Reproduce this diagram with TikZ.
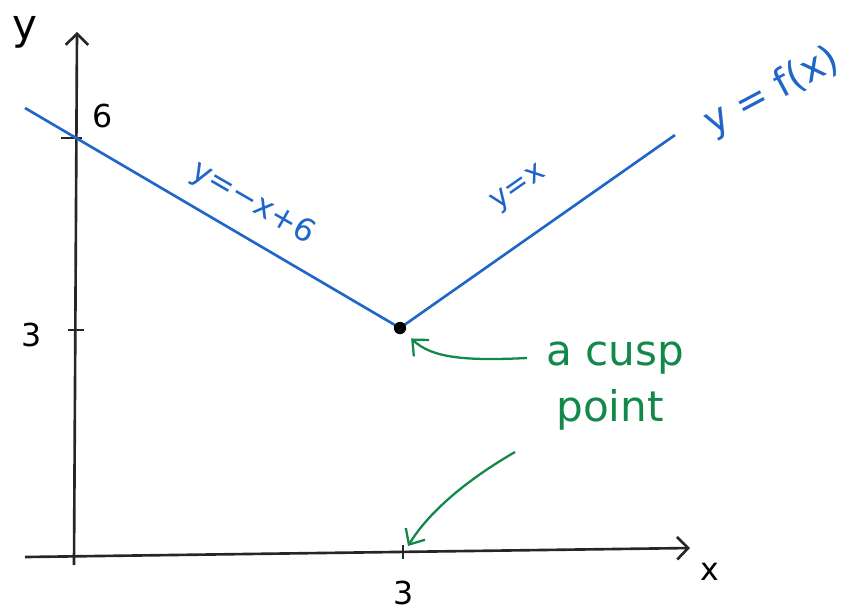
\documentclass[tikz,border=0pt]{standalone}
\usepackage{fontspec}
\setmainfont{DejaVu Sans}
\usetikzlibrary{arrows.meta,positioning}
\definecolor{cLine}{HTML}{1F66C8}
\definecolor{cNote}{HTML}{12884A}
\tikzset{
  axis/.style={line width=1.5pt,black!85,-{Straight Barb[length=2.2mm,width=4.5mm,line width=1.5pt]}},
  tck/.style={line width=1.5pt,black!85},
  graph/.style={line width=1.5pt,cLine},
  eqn/.style={cLine,inner sep=1pt},
  note/.style={cNote,font=\fontsize{24}{26}\selectfont,inner sep=1pt},
  pointer/.style={line width=1.3pt,cNote,-{Straight Barb[length=2.5mm,width=4.5mm,line width=1.3pt]}},
  lbl/.style={font=\fontsize{18}{20}\selectfont,inner sep=1pt},
  dot/.style={circle,fill=black,inner sep=0pt,minimum size=7pt},
}

\begin{document}
\begin{tikzpicture}[x=0.02cm,y=-0.02cm]
  \useasboundingbox (0,0) rectangle (858,613);
  % axes
  \coordinate (xs) at (25,557);
  \coordinate (xe) at (690,548);
  \coordinate (ys) at (74,565);
  \coordinate (ye) at (77,32);
  \draw[axis] (xs) -- (xe);
  \draw[axis] (ys) -- (ye);
  \node[lbl,font=\fontsize{24}{26}\selectfont] (ylab) at (25,32) {y};
  \node[lbl] (xlab) at (710,572) {x};
  % ticks
  \coordinate (y6) at (75,138);
  \coordinate (y3) at (75,330);
  \coordinate (x3) at (403,552);
  \draw[tck] ([xshift=-8pt]y6) -- ([xshift=4pt]y6);
  \draw[tck] ([xshift=-4pt]y3) -- ([xshift=5pt]y3);
  \draw[tck] ([yshift=4pt]x3) -- ([yshift=-4pt]x3);
  \node[lbl] (l6) at (103,116) {6};
  \node[lbl] (l3y) at (32,335) {3};
  \node[lbl] (l3x) at (404,593) {3};
  % the graph
  \coordinate (gs) at (25,108);
  \coordinate (c) at (400,328);
  \coordinate (ge) at (675,135);
  \draw[graph] (gs) -- (c) -- (ge);
  \node[dot] (cusp) at (c) {};
  \node[eqn,rotate=-30,font=\fontsize{18}{20}\selectfont] (eqL) at (253,203) {y=−x+6};
  \node[eqn,rotate=35,font=\fontsize{17}{19}\selectfont] (eqR) at (519,189) {y=x};
  \node[eqn,rotate=28,font=\fontsize{22}{24}\selectfont] (eqf) at (772,92) {y = f(x)};
  % notes
  \node[note] (na) at (615,358) {a cusp};
  \node[note] (np) at (610,410) {point};
  \coordinate (tailA) at (527,358);
  \coordinate (tailB) at (515,452);
  \coordinate (tipB) at (408,546);
  \draw[pointer,shorten >=5pt] (tailA) .. controls (465,361) and (432,358) .. (cusp);
  \draw[pointer] (tailB) .. controls (470,478) and (430,510) .. (tipB);
\end{tikzpicture}
\end{document}
